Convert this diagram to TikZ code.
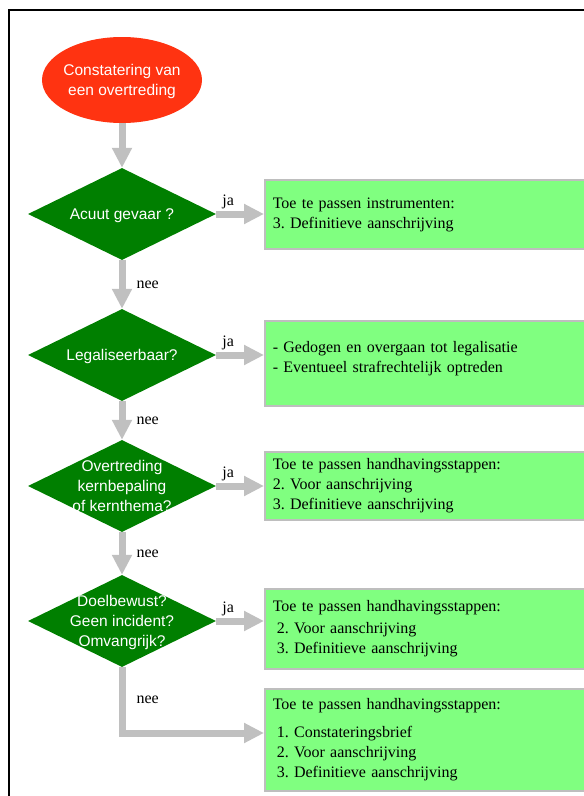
\documentclass[tikz,border=0pt]{standalone}
\usepackage{fontspec}
\setmainfont{Liberation Serif}
\newfontfamily\diafont{Liberation Sans}
\usetikzlibrary{shapes.geometric,arrows.meta}
\definecolor{startred}{HTML}{FF3311}
\definecolor{askgreen}{HTML}{007F00}
\definecolor{boxgreen}{HTML}{80FF80}
\definecolor{flowgray}{HTML}{C0C0C0}
\definecolor{boxline}{HTML}{BEBEBE}
% text that may run over the edge of its shape
\newcommand{\asktext}[1]{\smash{\makebox[0pt]{\raisebox{-5pt}{\begin{tabular}{@{}c@{}}#1\end{tabular}}}}}
\frenchspacing
\begin{document}
\begin{tikzpicture}
  [x=1pt,y=-1pt,
   every node/.style={font=\fontsize{16}{20}\selectfont},
   start/.style={ellipse,fill=startred,text=white,minimum width=160pt,minimum height=86pt,
     inner sep=0pt,font=\diafont\fontsize{15.5}{20}\selectfont},
   ask/.style={diamond,fill=askgreen,text=white,aspect=2.04,minimum width=188pt,minimum height=92pt,
     inner sep=0pt,font=\diafont\fontsize{15.5}{20}\selectfont},
   todo/.style={rectangle,draw=boxline,line width=1.5pt,fill=boxgreen,anchor=west,
     text width=320pt,inner xsep=8pt,inner ysep=0pt,align=left},
   flow/.style={draw=flowgray,line width=7pt,-{Triangle[width=19pt,length=20pt]}},
   lbl/.style={inner sep=0pt,text=black}]
  \useasboundingbox (0,0) rectangle (584,796);
  \clip (0,0) rectangle (584,796);
  \draw[line width=1.5pt] (9,10) rectangle (620,830);

  \node[start] (s) at (122,80) {\asktext{Constatering van\\een overtreding}};
  \node[ask] (q1) at (122,214) {\asktext{Acuut gevaar ?}};
  \node[ask] (q2) at (122,355) {\asktext{Legaliseerbaar?}};
  \node[ask] (q3) at (122,486) {\asktext{Overtreding\\kernbepaling\\of kernthema?}};
  \node[ask] (q4) at (122,621) {\asktext{Doelbewust?\\Geen incident?\\Omvangrijk?}};

  \node[todo,minimum height=69pt] (b1) at (264,214.5)
    {Toe te passen instrumenten:\\3. Definitieve aanschrijving};
  \node[todo,minimum height=85pt] (b2) at (264,363.5)
    {- Gedogen en overgaan tot legalisatie\\- Eventueel strafrechtelijk optreden\\[-6pt]\mbox{}};
  \node[todo,minimum height=68pt] (b3) at (264,486)
    {Toe te passen handhavingsstappen:\\2. Voor aanschrijving\\3. Definitieve aanschrijving};
  \node[todo,minimum height=80pt] (b4) at (264,629)
    {Toe te passen handhavingsstappen:\\[2pt]\hspace*{4pt}2. Voor aanschrijving\\\hspace*{4pt}3. Definitieve aanschrijving};
  \node[todo,minimum height=102pt] (b5) at (264,740)
    {Toe te passen handhavingsstappen:\\[8pt]\hspace*{4pt}1. Constateringsbrief\\\hspace*{4pt}2. Voor aanschrijving\\\hspace*{4pt}3. Definitieve aanschrijving};

  \draw[flow] (s) -- (q1);
\foreach \source /\dest in {q1/q2,q2/q3,q3/q4}
   \draw[flow] (\source) -- node[lbl,pos=0.5,right=11pt] {nee} (\dest);
\foreach \source /\dest in {q1/b1,q2/b2,q3/b3,q4/b4}
   \draw[flow] (\source.east) -- node[lbl,pos=0.25,above=2pt] {ja} (\source.east -| \dest.west);
  \draw[flow] (q4.south) |- node[lbl,pos=0.25,right=11pt] {nee} ([yshift=7pt]b5.west);
\end{tikzpicture}
\end{document}
